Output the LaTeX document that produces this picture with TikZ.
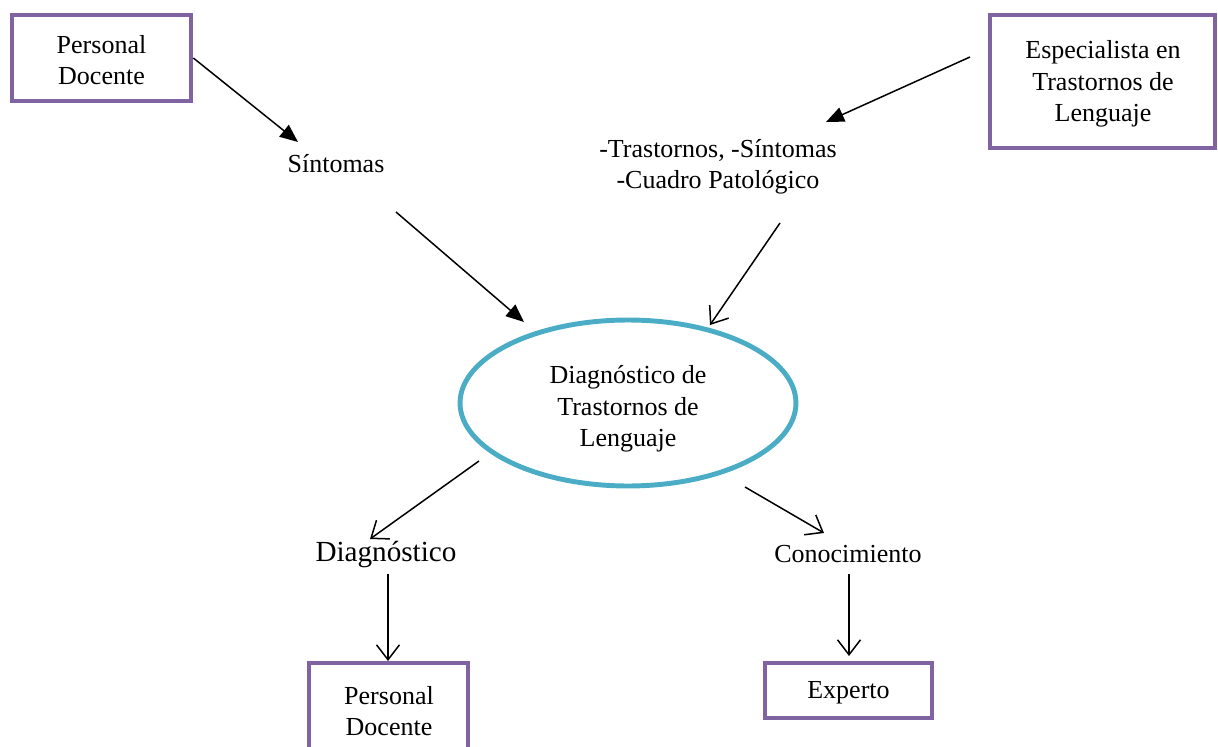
\documentclass[tikz,border=0pt]{standalone}
\usepackage{fontspec}
\setmainfont{Liberation Serif}
\usetikzlibrary{arrows.meta,shapes.geometric}
\definecolor{boxpurple}{HTML}{8064A2}
\definecolor{ellteal}{HTML}{4BACC6}
\begin{document}
\begin{tikzpicture}[x=0.02cm,y=-0.02cm,
  txt/.style={font=\fontsize{14.8}{17.8}\selectfont,align=center,inner sep=0pt},
  bigtxt/.style={font=\fontsize{16.6}{19}\selectfont,align=center,inner sep=0pt},
  pbox/.style={draw=boxpurple,line width=2.7pt,rectangle,inner sep=0pt},
  conn/.style={line width=0.85pt,black},
  fill tip/.style={conn,-{Triangle[length=0.36cm,width=0.3cm]}},
  open tip/.style={conn,-{Straight Barb[length=0.3cm,width=0.46cm,line width=0.85pt]}}]
\useasboundingbox (0,0) rectangle (1218,747);
\clip (0,0) rectangle (1218,747);
% boxes
\node[pbox,minimum width=3.58cm,minimum height=1.72cm] (pd1) at (101.5,58) {};
\node[txt] (pd1t) at (101.5,60) {Personal\\Docente};
\node[pbox,minimum width=4.5cm,minimum height=2.66cm] (esp) at (1102.5,81.5) {};
\node[txt] (espt) at (1103,84) {Especialista en\\Trastornos de\\Lenguaje};
\node[pbox,minimum width=3.18cm,minimum height=2.2cm] (pd2) at (388.5,718) {};
\node[txt] (pd2t) at (389,711) {Personal\\Docente};
\node[pbox,minimum width=3.34cm,minimum height=1.1cm] (exp) at (848.5,690.5) {};
\node[txt] (expt) at (848.5,693) {Experto};
% ellipse
\node[draw=ellteal,line width=2.8pt,ellipse,minimum width=6.72cm,minimum height=3.32cm,inner sep=0pt] (dx) at (628,403) {};
\node[txt] (dxt) at (628,409) {Diagnóstico de\\Trastornos de\\Lenguaje};
% labels
\node[txt] (sin) at (336,164) {Síntomas};
\node[txt] (tra) at (718,167) {-Trastornos, -Síntomas\\-Cuadro Patológico};
\node[bigtxt] (dia) at (386,555) {Diagnóstico};
\node[txt] (con) at (848,554) {Conocimiento};
% coordinates
\coordinate (a1e) at (298,142);
\coordinate (a2s) at (970,57);
\coordinate (a2e) at (826,122);
\coordinate (a3s) at (396,212);
\coordinate (a3e) at (524,322);
\coordinate (a4s) at (780,223);
\coordinate (a4e) at (710,325);
\coordinate (a5s) at (479,461);
\coordinate (a5e) at (370,539);
\coordinate (a6s) at (745,487);
\coordinate (a6e) at (824,533);
\coordinate (a7s) at (388,574);
\coordinate (a7e) at (388,661);
\coordinate (a8s) at (849,574);
\coordinate (a8e) at (849,656);
% connectors
\draw[fill tip] (pd1.east) -- (a1e);
\draw[fill tip] (a2s) -- (a2e);
\draw[fill tip] (a3s) -- (a3e);
\draw[open tip] (a4s) -- (a4e);
\draw[open tip] (a5s) -- (a5e);
\draw[open tip] (a6s) -- (a6e);
\draw[open tip] (a7s) -- (a7e);
\draw[open tip] (a8s) -- (a8e);
\end{tikzpicture}
\end{document}
